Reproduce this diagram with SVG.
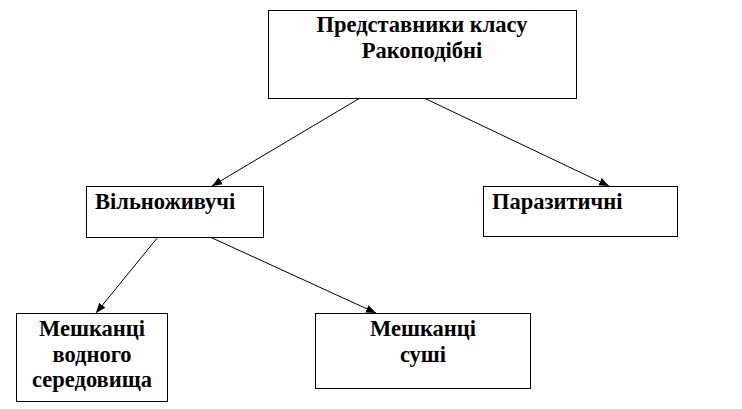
<svg xmlns="http://www.w3.org/2000/svg" width="742" height="409" viewBox="0 0 742 409">
<style>
.box{fill:#fff;stroke:#000;stroke-width:1}
.t{font-family:"Liberation Serif","Times New Roman",serif;font-weight:bold;font-size:22.5px;fill:#000}
.c{text-anchor:middle}
.ln{stroke:#000;stroke-width:1;fill:none;marker-end:url(#ah)}
</style>
<defs>
<marker id="ah" viewBox="0 0 10 10" refX="10" refY="5" markerWidth="10" markerHeight="10" markerUnits="userSpaceOnUse" orient="auto">
<path d="M0,1 L10,5 L0,9 Z" fill="#000"/>
</marker>
</defs>
<rect width="742" height="409" fill="#fff"/>
<g id="connectors">
<line class="ln" x1="360" y1="98" x2="212" y2="186"/>
<line class="ln" x1="424" y1="98" x2="609" y2="186"/>
<line class="ln" x1="158" y1="237" x2="96" y2="313"/>
<line class="ln" x1="210" y1="237" x2="376" y2="313"/>
</g>
<g id="root">
<rect class="box" x="268.5" y="10.5" width="308" height="88"/>
<text class="t c" x="422" y="32">Представники класу</text>
<text class="t c" x="422" y="58">Ракоподібні</text>
</g>
<g id="vilno">
<rect class="box" x="86.5" y="186.5" width="177" height="51"/>
<text class="t" x="95" y="209">Вільноживучі</text>
</g>
<g id="paraz">
<rect class="box" x="483.5" y="186.5" width="194" height="50"/>
<text class="t" x="492" y="209">Паразитичні</text>
</g>
<g id="vodn">
<rect class="box" x="16.5" y="313.5" width="151" height="88"/>
<text class="t c" x="92" y="336">Мешканці</text>
<text class="t c" x="92" y="362">водного</text>
<text class="t c" x="92" y="387">середовища</text>
</g>
<g id="sushi">
<rect class="box" x="315.5" y="313.5" width="215" height="75"/>
<text class="t c" x="423" y="336">Мешканці</text>
<text class="t c" x="423" y="362">суші</text>
</g>
</svg>
